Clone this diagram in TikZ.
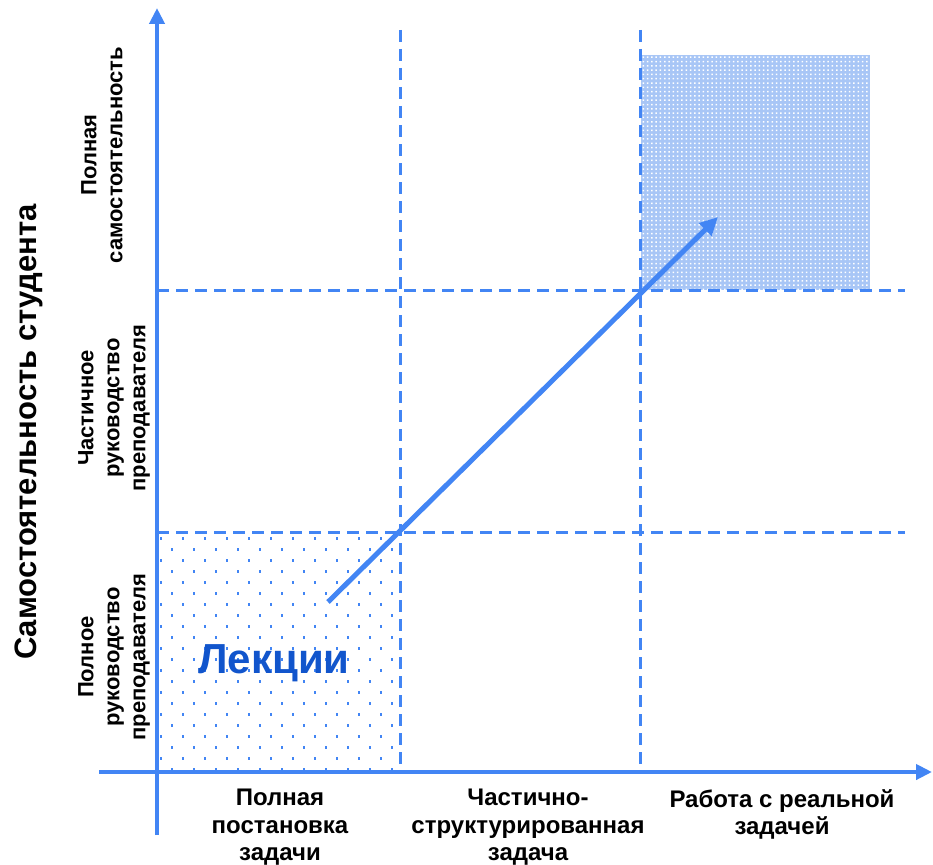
\documentclass[tikz,border=0pt]{standalone}
\usepackage{fontspec}
\setmainfont{Liberation Sans}
\usetikzlibrary{arrows.meta}
\definecolor{gblue}{RGB}{66,133,244}
\definecolor{lectblue}{RGB}{17,85,204}
\definecolor{paleblue}{RGB}{168,198,246}

\begin{document}
\begin{tikzpicture}[x=1pt,y=-1pt,
  axisline/.style={draw=gblue,line width=4pt,-{Triangle[length=16pt,width=15pt]}},
  gridline/.style={draw=gblue,line width=3pt,dash pattern=on 12pt off 7pt},
  trend/.style={draw=gblue,line width=5pt,-{Triangle[length=18pt,width=17pt]}},
  lbl/.style={font=\bfseries\fontsize{24}{27.5}\selectfont,align=center,inner sep=0pt},
  ylbl/.style={font=\bfseries\fontsize{22}{26}\selectfont,align=center,inner sep=0pt,rotate=90},
  title/.style={font=\bfseries\fontsize{31}{34}\selectfont,inner sep=0pt,rotate=90},
  zone/.style={font=\bfseries\fontsize{42}{46}\selectfont,text=lectblue,inner sep=0pt}]
\useasboundingbox (0,0) rectangle (933,864);

% axis end points
\coordinate (yTop) at (157,8);
\coordinate (yBot) at (157,835);
\coordinate (xLeft) at (99,772);
\coordinate (xRight) at (932,772);

% "lectures" cell: sparse staggered dot pattern
\begin{scope}
  \clip (159,534) rectangle (399,770);
  \foreach \r in {0,...,22} {
    \pgfmathsetmacro{\yy}{537+11*\r}
    \pgfmathsetmacro{\off}{mod(\r,2)==0 ? 0 : 11}
    \foreach \c in {0,...,11} {
      \fill[gblue] (159.5+\off+22*\c,\yy) rectangle ++(2.6,2.6);
    }
  }
\end{scope}

% "real task" cell: fine white dots on pale blue
\fill[paleblue] (641,55) rectangle (870,290);
\begin{scope}
  \clip (641,55) rectangle (870,290);
  \fill[white]
    \foreach \r in {0,...,54} {
      \foreach \c in {0,...,53} {
        (642.5+4.3*\c,56.5+4.3*\r) rectangle ++(1.5,1.5)
      }
    };
\end{scope}

% dashed grid
\coordinate (v1t) at (400,30);  \coordinate (v1b) at (400,772);
\coordinate (v2t) at (640,30);  \coordinate (v2b) at (640,772);
\coordinate (h1l) at (157,290); \coordinate (h1r) at (905,290);
\coordinate (h2l) at (157,532); \coordinate (h2r) at (905,532);
\draw[gridline] (v1t) -- (v1b);
\draw[gridline] (v2t) -- (v2b);
\draw[gridline] (h1l) -- (h1r);
\draw[gridline] (h2l) -- (h2r);

% axes
\draw[axisline] (yBot) -- (yTop);
\draw[axisline] (xLeft) -- (xRight);

% progression arrow
\coordinate (trendStart) at (328,602);
\coordinate (trendEnd) at (718,217);
\draw[trend] (trendStart) -- (trendEnd);

% axis title
\node[title] (ytitle) at (29,432) {Самостоятельность студента};

% row labels
\node[ylbl] (row3) at (102,155) {Полная\\самостоятельность};
\node[ylbl] (row2) at (114,408) {Частичное\\руководство\\преподавателя};
\node[ylbl] (row1) at (114,657) {Полное\\руководство\\преподавателя};

% column labels
\node[lbl,anchor=north] (col1) at (280,789) {Полная\\постановка\\задачи};
\node[lbl,anchor=north] (col2) at (528,789) {Частично-\\структурированная\\задача};
\node[lbl,anchor=north] (col3) at (782,789) {Работа с реальной\\задачей};

% cell caption
\node[zone] (lect) at (274,663) {Лекции};
\end{tikzpicture}
\end{document}
